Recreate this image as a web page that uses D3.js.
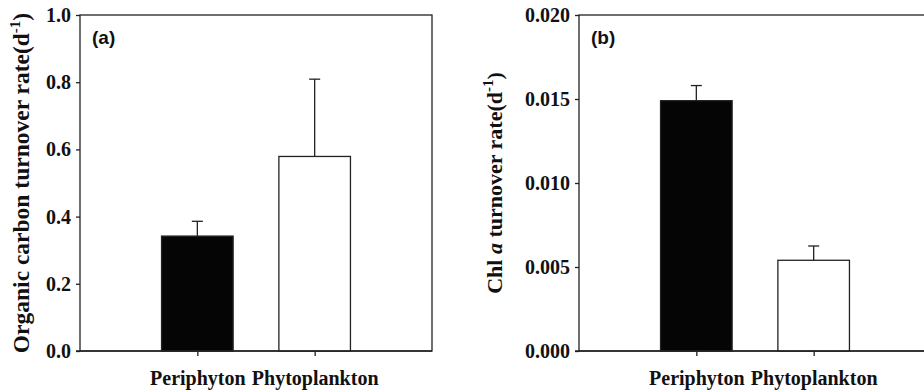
<!DOCTYPE html>
<html>
<head>
<meta charset="utf-8">
<script src="https://cdn.jsdelivr.net/npm/d3@7"></script>
<style>
  body { margin: 0; background: #fff; }
  svg { display: block; }
  .tick text { font-family: "Liberation Serif", "Times New Roman", serif; font-weight: bold; fill: #111; }
</style>
</head>
<body>
<svg id="chart" width="924" height="392"></svg>
<script>
// categories on the x axis (same for both panels)
var categories = ["Periphyton", "Phytoplankton"];
var barColors = ["#050505", "#ffffff"];

// panel (a): organic carbon turnover rate
var carbonMeans = [0.342, 0.579];
var carbonErrors = [0.044, 0.230];
var carbonTicks = [0.0, 0.2, 0.4, 0.6, 0.8, 1.0];

// panel (b): Chl a turnover rate
var chlMeans = [0.0149, 0.0054];
var chlErrors = [0.0009, 0.00085];
var chlTicks = [0.000, 0.005, 0.010, 0.015, 0.020];

var svg = d3.select("#chart");
var lineColor = "#222";
var serif = "'Liberation Serif', 'Times New Roman', serif";

function drawPanel(left, opts) {
  var margin = {top: 15, left: left},
      width = 352,
      height = 336;

  var g = svg.append("g")
      .attr("transform", "translate(" + margin.left + "," + margin.top + ")");

  var x = d3.scalePoint().domain(categories).range([0, width]).padding(1);
  var y = d3.scaleLinear().domain([0, opts.ticks[opts.ticks.length - 1]]).range([height, 0]);
  var barWidth = x.step() * 0.61;

  // frame
  g.append("rect")
      .attr("width", width)
      .attr("height", height)
      .attr("fill", "none")
      .attr("stroke", lineColor)
      .attr("stroke-width", 1.3);

  // error bars (upper only)
  var err = g.selectAll(".err")
    .data(categories)
    .enter().append("g")
      .attr("class", "err");
  err.append("line")
      .attr("x1", function(d) { return x(d); })
      .attr("x2", function(d) { return x(d); })
      .attr("y1", function(d, i) { return y(opts.means[i]); })
      .attr("y2", function(d, i) { return y(opts.means[i] + opts.errors[i]); })
      .attr("stroke", lineColor)
      .attr("stroke-width", 1.3);
  err.append("line")
      .attr("x1", function(d) { return x(d) - 5.5; })
      .attr("x2", function(d) { return x(d) + 5.5; })
      .attr("y1", function(d, i) { return y(opts.means[i] + opts.errors[i]); })
      .attr("y2", function(d, i) { return y(opts.means[i] + opts.errors[i]); })
      .attr("stroke", lineColor)
      .attr("stroke-width", 1.3);

  // bars
  g.selectAll(".bar")
    .data(categories)
    .enter().append("rect")
      .attr("class", "bar")
      .attr("x", function(d) { return x(d) - barWidth / 2; })
      .attr("y", function(d, i) { return y(opts.means[i]); })
      .attr("width", barWidth)
      .attr("height", function(d, i) { return height - y(opts.means[i]); })
      .attr("fill", function(d, i) { return barColors[i]; })
      .attr("stroke", lineColor)
      .attr("stroke-width", 1.3);

  // axes
  var yAxis = g.append("g")
      .call(d3.axisLeft(y).tickValues(opts.ticks).tickFormat(d3.format(opts.format))
        .tickSize(4).tickPadding(5));
  var xAxis = g.append("g")
      .attr("transform", "translate(0," + height + ")")
      .call(d3.axisBottom(x).tickSize(5).tickPadding(15));
  [yAxis, xAxis].forEach(function(ax) {
    ax.select(".domain").remove();
    ax.selectAll("line").attr("stroke", lineColor).attr("stroke-width", 1.3);
    ax.selectAll("text").style("font-size", "20px");
  });
  // bottom axis line runs under the left tick area
  g.append("line")
      .attr("x1", -4).attr("x2", width)
      .attr("y1", height).attr("y2", height)
      .attr("stroke", lineColor)
      .attr("stroke-width", 1.3);

  // y axis title
  var title = g.append("text")
      .attr("transform", "translate(" + opts.titleX + "," + (height / 2) + ") rotate(-90)")
      .attr("text-anchor", "middle")
      .style("font-family", serif)
      .style("font-weight", "bold")
      .style("font-size", opts.titleSize + "px")
      .attr("fill", "#111");
  opts.title.forEach(function(part) {
    var t = title.append("tspan").text(part.text);
    if (part.italic) t.style("font-style", "italic");
    if (part.sup) t.style("font-size", "15px").attr("dy", "-9");
    if (part.after) t.attr("dy", "9");
  });

  // panel letter
  g.append("text")
      .attr("x", 12)
      .attr("y", 29)
      .style("font-family", "'Liberation Sans', Arial, sans-serif")
      .style("font-weight", "bold")
      .style("font-size", "19px")
      .attr("fill", "#111")
      .text(opts.letter);
}

drawPanel(80, {
  means: carbonMeans, errors: carbonErrors, ticks: carbonTicks, format: ".1f",
  letter: "(a)", titleX: -51, titleSize: 23.5,
  title: [{text: "Organic carbon turnover rate(d"}, {text: "-1", sup: true}, {text: ")", after: true}]
});

drawPanel(579, {
  means: chlMeans, errors: chlErrors, ticks: chlTicks, format: ".3f",
  letter: "(b)", titleX: -77, titleSize: 22,
  title: [{text: "Chl "}, {text: "a", italic: true}, {text: " turnover rate(d"}, {text: "-1", sup: true}, {text: ")", after: true}]
});
</script>
</body>
</html>
